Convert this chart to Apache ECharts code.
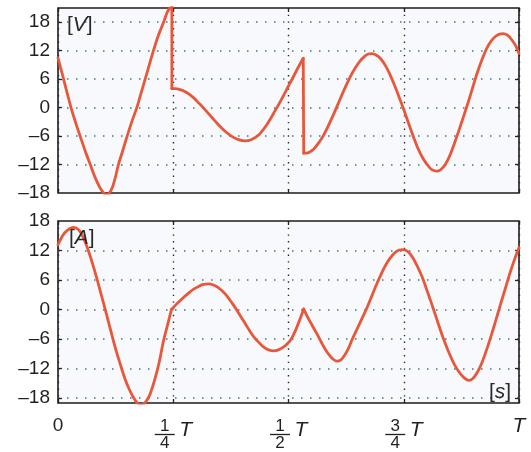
<!DOCTYPE html>
<html>
<head>
<meta charset="utf-8">
<script src="https://cdn.jsdelivr.net/npm/echarts@6/dist/echarts.min.js"></script>
<style>
html,body{margin:0;padding:0;background:#fff;}
#c{width:531px;height:452px;}
</style>
</head>
<body>
<div id="c"></div>
<script>
// ---- data (t in fractions of T) ----
const xTicks = [0, 0.25, 0.5, 0.75, 1];
const fracTicks = [0.25, 0.5, 0.75];
const fracNum = ['1', '1', '3'];
const fracDen = ['4', '2', '4'];
const yTicks = [-18, -12, -6, 0, 6, 12, 18];
const vRange = [-18, 21];
const iRange = [-19, 18];

// Voltage [V], three continuous pieces (jumps between them)
const vPiece1 = [[0,10.5],[0.01,6.8],[0.02,3.0],[0.03,-0.6],[0.04,-3.7],[0.05,-6.6],[0.06,-9.4],[0.07,-12],[0.08,-14.6],[0.09,-16.7],[0.1,-18.1],[0.105,-18.4],[0.111,-18.1],[0.118,-16.8],[0.125,-14.5],[0.131,-12],[0.14,-9.2],[0.15,-6],[0.16,-3.0],[0.171,0],[0.18,3.0],[0.189,6],[0.198,9.0],[0.207,12],[0.218,15.3],[0.229,18],[0.236,19.9],[0.241,20.8],[0.247,21.3]];
const vPiece2 = [[0.247,4.0],[0.255,4.0],[0.265,3.8],[0.275,3.4],[0.285,2.8],[0.295,2.0],[0.305,1.0],[0.315,0],[0.325,-1.1],[0.335,-2.2],[0.345,-3.3],[0.355,-4.3],[0.365,-5.2],[0.376,-6.0],[0.39,-6.7],[0.406,-7.0],[0.42,-6.7],[0.437,-5.6],[0.45,-4.0],[0.46,-2.5],[0.47,-0.8],[0.48,0.9],[0.49,2.7],[0.5,4.6],[0.51,6.4],[0.52,8.3],[0.532,10.4]];
const vPiece3 = [[0.533,-9.6],[0.539,-9.6],[0.545,-9.4],[0.555,-8.7],[0.565,-7.5],[0.575,-6.0],[0.585,-4.1],[0.595,-2.0],[0.605,0.2],[0.615,2.5],[0.625,4.7],[0.635,6.7],[0.645,8.4],[0.655,9.8],[0.665,10.8],[0.673,11.3],[0.681,11.4],[0.69,11.1],[0.7,10.3],[0.71,8.9],[0.72,7.0],[0.73,4.7],[0.74,2.2],[0.75,-0.4],[0.76,-3.2],[0.77,-5.9],[0.78,-8.4],[0.79,-10.4],[0.8,-11.9],[0.81,-13.0],[0.822,-13.4],[0.83,-13.1],[0.84,-12.0],[0.85,-10.1],[0.86,-7.5],[0.87,-4.7],[0.88,-1.8],[0.89,1.2],[0.9,4.4],[0.91,7.5],[0.92,10.2],[0.93,12.5],[0.94,14.1],[0.95,15.1],[0.958,15.5],[0.965,15.6],[0.975,15.3],[0.985,14.2],[0.993,13.0],[1.0,11.4]];

// Current [A], three pieces (kinks between them)
const iPiece1 = [[0,13.2],[0.01,15.0],[0.02,16.1],[0.034,16.7],[0.045,16.2],[0.055,14.6],[0.065,12.2],[0.075,9.3],[0.085,6.1],[0.095,2.6],[0.105,-0.9],[0.115,-4.5],[0.125,-8.0],[0.135,-11.1],[0.145,-14.0],[0.155,-16.3],[0.165,-18.1],[0.172,-19.0],[0.179,-19.4],[0.186,-19.2],[0.193,-18.4],[0.2,-17.1],[0.21,-14.2],[0.22,-10.5],[0.229,-6.3],[0.238,-3.0],[0.246,0]];
const iPiece2 = [[0.246,0],[0.255,0.9],[0.265,1.8],[0.275,2.7],[0.285,3.5],[0.295,4.2],[0.305,4.7],[0.315,5.1],[0.327,5.2],[0.337,5.0],[0.347,4.5],[0.357,3.7],[0.367,2.7],[0.377,1.4],[0.387,0],[0.397,-1.5],[0.407,-3.0],[0.417,-4.5],[0.427,-5.8],[0.437,-6.8],[0.447,-7.7],[0.457,-8.2],[0.468,-8.4],[0.478,-8.2],[0.488,-7.7],[0.498,-6.9],[0.506,-6.0],[0.515,-4.3],[0.524,-2.2],[0.533,0.1]];
const iPiece3 = [[0.533,0.1],[0.543,-1.8],[0.553,-3.5],[0.562,-5.0],[0.571,-6.6],[0.58,-8.1],[0.589,-9.3],[0.597,-10.1],[0.605,-10.5],[0.613,-10.3],[0.621,-9.4],[0.63,-7.9],[0.638,-6.1],[0.646,-4.5],[0.654,-2.9],[0.662,-1.3],[0.67,0.3],[0.68,2.6],[0.69,4.9],[0.7,7.0],[0.71,8.9],[0.72,10.4],[0.73,11.5],[0.74,12.1],[0.75,12.2],[0.76,11.7],[0.77,10.5],[0.78,8.7],[0.79,6.6],[0.8,4.0],[0.81,1.3],[0.82,-1.5],[0.83,-4.3],[0.84,-6.9],[0.85,-9.2],[0.86,-11.2],[0.87,-12.7],[0.88,-13.8],[0.891,-14.4],[0.9,-14.0],[0.91,-12.7],[0.92,-10.7],[0.93,-8.1],[0.94,-5.2],[0.95,-2.1],[0.96,1.1],[0.97,4.2],[0.98,7.3],[0.99,10.1],[1.0,12.6]];

// ---- styles ----
const FONT = '"Liberation Sans", Arial, sans-serif';
const TXT = '#231f20';
const LINE = '#e9573b';
const hDots = { color: '#3f7787', width: 1.5, type: [1.5, 7.5] };
const vDots = { color: '#2a2a2a', width: 1.4, type: [1.4, 5.3] };
const tickStyle = { inside: true, length: 4, lineStyle: { color: '#222', width: 1.3 } };

function fmtY(v){ return v < 0 ? '\u2013' + (-v) : String(v); }

const grids = [
  { left: 58, right: 12, top: 8, height: 185 },
  { left: 58, right: 12, top: 221, height: 182 }
];
grids.forEach(g => { g.show = true; g.backgroundColor = '#f8f9fc'; g.borderColor = '#1c1c1c'; g.borderWidth = 1.6; });

function xAx(gi, pos, labels){
  return {
    type: 'value', gridIndex: gi, position: pos, min: 0, max: 1, interval: 0.25,
    axisLine: { show: false, onZero: false },
    axisTick: tickStyle,
    splitLine: { show: pos === 'bottom', lineStyle: vDots },
    axisLabel: labels ? {
      show: true, margin: 13, fontFamily: FONT, fontSize: 19, color: TXT,
      formatter: v => v === 0 ? '0' : (v === 1 ? '{i|T}' : ''),
      rich: { i: { fontStyle: 'italic', fontFamily: FONT, fontSize: 21, color: TXT } }
    } : { show: false }
  };
}
function yAx(gi, pos, range, labels, tickVals){
  return {
    type: 'value', gridIndex: gi, position: pos, min: range[0], max: range[1],
    axisLine: { show: false, onZero: false },
    axisTick: Object.assign({ customValues: tickVals }, tickStyle),
    splitLine: { show: pos === 'left', lineStyle: hDots },
    axisLabel: labels ? {
      show: true, margin: 8, fontFamily: FONT, fontSize: 19, color: TXT,
      customValues: yTicks, formatter: fmtY
    } : { show: false }
  };
}

const xAxis = [xAx(0,'bottom',false), xAx(0,'top',false), xAx(1,'bottom',true), xAx(1,'top',false)];
const yTicksTop = yTicks.filter(v => v > vRange[0] && v < vRange[1]);
const yTicksBot = yTicks.filter(v => v > iRange[0] && v < iRange[1]);
const yAxis = [yAx(0,'left',vRange,true,yTicksTop), yAx(0,'right',vRange,false,yTicksTop),
               yAx(1,'left',iRange,true,yTicksBot), yAx(1,'right',iRange,false,yTicksBot)];

function seg(data, xi, yi, smooth){
  return { type: 'line', data: data, xAxisIndex: xi, yAxisIndex: yi, smooth: smooth ? 0.3 : false,
    showSymbol: false, symbol: 'none', silent: true, animation: false, clip: true,
    lineStyle: { color: LINE, width: 2.8, cap: 'round', join: 'round' } };
}
const last = a => a[a.length - 1];
const series = [
  seg(vPiece1, 0, 0, true),
  seg([last(vPiece1), vPiece2[0]], 0, 0, false),
  seg(vPiece2, 0, 0, true),
  seg([last(vPiece2), vPiece3[0]], 0, 0, false),
  seg(vPiece3, 0, 0, true),
  seg(iPiece1, 2, 2, true),
  seg(iPiece2, 2, 2, true),
  seg(iPiece3, 2, 2, true)
];

const chart = echarts.init(document.getElementById('c'), null, { renderer: 'canvas' });
chart.setOption({
  animation: false,
  backgroundColor: '#ffffff',
  grid: grids, xAxis: xAxis, yAxis: yAxis, series: series
});

// unit labels and fraction tick labels
const g = [];
function unitText(txt, x, y){
  g.push({ type: 'text', x: x, y: y, z: 10, style: {
    text: '[{i|' + txt + '}]', fontFamily: FONT, fontSize: 21, fill: '#2a2a2a', verticalAlign: 'middle',
    rich: { i: { fontStyle: 'italic', fontFamily: FONT, fontSize: 21, fill: '#2a2a2a' } } } });
}
const pTop = chart.convertToPixel({ gridIndex: 0 }, [0, vRange[1]]);
const pBot = chart.convertToPixel({ gridIndex: 1 }, [1, iRange[0]]);
const pBotTop = chart.convertToPixel({ gridIndex: 1 }, [0, iRange[1]]);
unitText('V', pTop[0] + 9, pTop[1] + 17);
unitText('A', pBotTop[0] + 11, pBotTop[1] + 17);
unitText('s', pBot[0] - 30, pBot[1] - 11);

fracTicks.forEach((t, k) => {
  const p = chart.convertToPixel({ gridIndex: 1 }, [t, iRange[0]]);
  const cx = p[0] - 8.5, base = p[1];
  g.push({ type: 'text', x: cx, y: base + 23, style: { text: fracNum[k], fontFamily: FONT, fontSize: 17, fill: TXT, align: 'center', verticalAlign: 'middle' } });
  g.push({ type: 'line', shape: { x1: p[0] - 18.5, y1: base + 31.5, x2: p[0] + 1.5, y2: base + 31.5 }, style: { stroke: TXT, lineWidth: 1.3 } });
  g.push({ type: 'text', x: cx, y: base + 40, style: { text: fracDen[k], fontFamily: FONT, fontSize: 17, fill: TXT, align: 'center', verticalAlign: 'middle' } });
  g.push({ type: 'text', x: p[0] + 12.5, y: base + 27, style: { text: 'T', fontFamily: FONT, fontStyle: 'italic', fontSize: 21, fill: TXT, align: 'center', verticalAlign: 'middle' } });
});
chart.setOption({ graphic: g });
</script>
</body>
</html>
